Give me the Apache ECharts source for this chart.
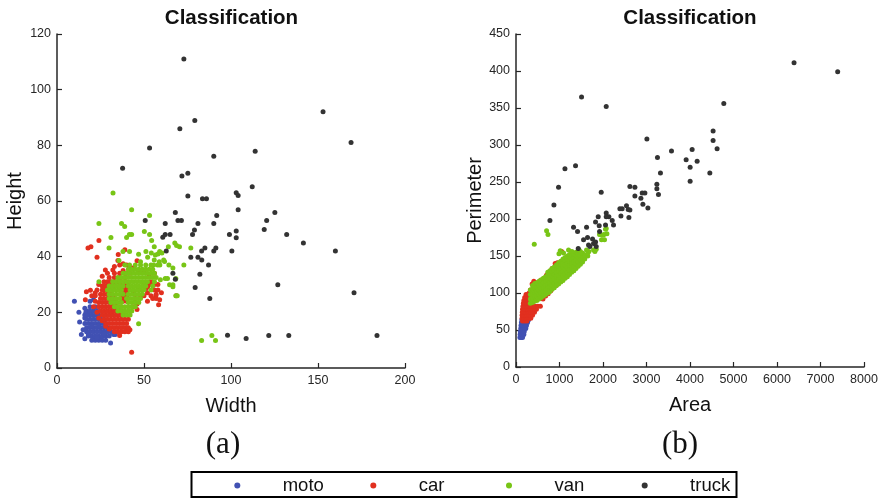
<!DOCTYPE html>
<html>
<head>
<meta charset="utf-8">
<title>Classification</title>
<script src="https://cdn.jsdelivr.net/npm/echarts@6/dist/echarts.min.js"></script>
<style>
  html, body { margin: 0; padding: 0; background: #fff; }
  #main { width: 886px; height: 498px; }
</style>
</head>
<body>
<div id="main"></div>
<script>
// class names and colours
var classes = ['moto', 'car', 'van', 'truck'];
var colors = ['#4151b3', '#e1301f', '#78c516', '#333333'];

// axis ticks [min, max, step]
var widthTicks = [0, 200, 50];
var heightTicks = [0, 120, 20];
var areaTicks = [0, 8000, 1000];
var perimTicks = [0, 450, 50];

// (a) Width / Height
var motoWH = [
  [10,24],[12.6,20],[16,21.5],[16.6,20],[16,18],[15,13.7],[16,10.5],[30.8,9],[21.5,10.2],[25.5,10.2],
  [14,12],[13,16.5],[19,24],[21,24.5],[32.5,12],[33.5,12],
  [20,10],[22,10],[24,10],[26,10],[28,10],
  [18,11.5],[20,11.5],[22,11.5],[24,11.5],[26,11.5],[28,11.5],[30,11.5],
  [17,13],[19,13],[21,13],[23,13],[25,13],[27,13],[29,13],[31,13],
  [17,14.5],[19,14.5],[21,14.5],[23,14.5],[25,14.5],[27,14.5],[29,14.5],
  [16,16],[18,16],[20,16],[22,16],[24,16],[26,16],[28,16],
  [17,17.5],[19,17.5],[21,17.5],[23,17.5],[25,17.5],[27,17.5],
  [16,19],[18,19],[20,19],[22,19],[24,19],
  [17,20.5],[19,20.5],[21,20.5],[23,20.5],
  [19,22],[22,22],[18,12.2],[23,11],[27,12.2],[20,15.2],[24,15.2],[28,15.2]
];
var carWH = [
  [42.9,5.7],[24.1,45.8],[17.8,43.1],[19.5,43.6],[23,39.8],[35.2,40.8],[35,38.6],[27.8,35.2],[32.1,35.2],
  [16.9,27.4],[19.2,27.9],[16.3,24.5],[36,11.7],[40.8,13.7],[41.9,13.7],[58.4,22.7],[56.8,26],[68.5,26],
  [39,42.5],[29,34],[22,27],[20,26],[38,37.5],[33,36.5],[46,38.5],[26,33],
  [22,24],[22,26],[23,28],[24,30],[21,22],[23,20],[24,18],[26,17],[28,15],[30,14],
  [33,13],[35,13],[37,13],[39,13],[41,13],
  [31,14.5],[33,14.5],[35,14.5],[37,14.5],[39,14.5],[41,14.5],
  [28,16],[30,16],[32,16],[34,16],[36,16],[38,16],[40,16],
  [27,17.5],[29,17.5],[31,17.5],[33,17.5],[35,17.5],[37,17.5],[39,17.5],[41,17.5],
  [26,19],[28,19],[30,19],[32,19],[34,19],[36,19],[38,19],
  [25,20.5],[27,20.5],[29,20.5],[31,20.5],[33,20.5],[35,20.5],[37,20.5],
  [24,22],[26,22],[28,22],[30,22],[32,22],[34,22],[36,22],
  [24,23.5],[26,23.5],[28,23.5],[30,23.5],[32,23.5],[34,23.5],
  [25,25],[27,25],[29,25],[31,25],[33,25],
  [25,26.5],[27,26.5],[29,26.5],[31,26.5],
  [26,28],[28,28],[30,28],
  [26,29.5],[28,29.5],[30,29.5],[32,29.5],
  [27,31],[29,31],[31,31],[33,31],[35,31],[37,31],
  [30,32.5],[33,32.5],[36,32.5],[39,32.5],
  [33,34],[36,34],[40,34],[42,34],
  [38,24],[38,26],[39,27.5],[40,29],[39,30],[37,25],[40,25.5],
  [38.5,27],[40,27.5],[39,28.5],[40.5,30],[39.5,31],[39,25],[40,24],[41,29],[38,29.5],[37,28],
  [50,26],[52,27],[54,26],[56,28],[52,24],[55,25],[58,30],[53,30],[51,28.5],[57,26.5],
  [44,27],[45,25],[46,23],[44,22],[46,21],[47,28],[48,26],[50,30],[52,29],[54,31],[56,30],[58,28],
  [60,27],[57,25],[59,24.5],[53,33],[56,34],[50,34.5],[44,36],[47,35],[38,35],[36,37],[40,37],[42,36]
];
var vanWH = [
  [32.2,62.9],[42.9,56.9],[53.2,54.8],[24.1,51.9],[37.1,51.9],[38.9,50.8],[31,46.9],[40,46.9],[41.6,48],
  [42.9,48],[50.2,49],[53.2,48],[54.4,45.8],[55.9,43.6],[67.7,44.9],[68.7,44],[70.4,43.6],[64,43.6],
  [76.9,43.1],[29.9,43.1],[37.9,41.9],[41.7,41.9],[46.9,40.9],[51.1,41.9],[59,41.9],[60.3,41.3],
  [35.6,38.6],[48,38.2],[54.2,41.3],[56.5,40.6],[61.8,38.3],[59.1,37],[39,37],[41.7,37],[55.5,37],
  [57.8,37],[72.9,37],[24.1,31],[64.7,29.9],[62.2,32.2],[63.5,32.2],[59.4,31.7],[66.6,29.9],[68.3,32.2],
  [68.3,26],[69.1,26],[46.9,15.9],[58,41],[61.3,38.8],[55.9,38.8],[58.8,38.2],[52.1,39.8],[64.3,37],
  [66.6,35.9],[66.6,29.2],[83.1,9.9],[89,11.7],[91.1,9.9],
  [38,19],[40,19],[42,19],
  [35,20.5],[37,20.5],[39,20.5],[41,20.5],[43,20.5],
  [33,22],[35,22],[37,22],[39,22],[41,22],[43,22],[45,22],
  [31,23.5],[33,23.5],[35,23.5],[37,23.5],[41,23.5],[43,23.5],[45,23.5],[47,23.5],
  [30,25],[32,25],[34,25],[36,25],[40,25],[42,25],[44,25],[46,25],[48,25],
  [30,26.5],[32,26.5],[34,26.5],[36,26.5],[38,26.5],[41,26.5],[43,26.5],[45,26.5],[47,26.5],[49,26.5],
  [29,28],[31,28],[33,28],[35,28],[37,28],[42,28],[44,28],[46,28],[48,28],[50,28],[54,28],
  [30,29.5],[32,29.5],[34,29.5],[36,29.5],[38,29.5],[41,29.5],[43,29.5],[45,29.5],[47,29.5],[49,29.5],[51,29.5],[55,29.5],
  [32,31],[34,31],[36,31],[38,31],[40,31],[42,31],[44,31],[46,31],[48,31],[50,31],[52,31],[56,31],
  [35,32.5],[37,32.5],[39,32.5],[41,32.5],[43,32.5],[45,32.5],[47,32.5],[49,32.5],[51,32.5],[53,32.5],[55,32.5],[57,32.5],
  [38,34],[40,34],[42,34],[44,34],[46,34],[48,34],[50,34],[52,34],[54,34],[56,34],
  [41,35.5],[43,35.5],[45,35.5],[47,35.5],[49,35.5],[51,35.5],[53,35.5],[55,35.5],
  [45,37],[48,37],[51,37],[54,37]
];
var truckWH = [
  [72.9,111],[79.2,88.9],[70.6,86],[53.2,79],[37.7,71.8],[90.1,76.1],[113.9,77.9],[152.9,92.1],[169,81],
  [71.8,69],[75.2,70],[75.2,61.8],[83.6,60.8],[85.9,60.8],[112.2,65.1],[103,63],[104.1,62],[104.1,56.9],
  [125.2,55.9],[120.5,53],[68,55.9],[69.5,53],[71.5,53],[50.7,53],[62.2,51.9],[81,51.9],[90.1,51.9],
  [91.8,54.8],[79,49.6],[77.9,48],[62.2,48],[65,48],[60.8,47],[103,49.2],[103,46.8],[99.1,48],[119.1,49.8],
  [132,48],[141.6,44.9],[85,43.1],[91.3,43.1],[83.1,42],[90.1,42],[62.8,42],[100.5,42],[76.9,39.8],
  [81,39.8],[83.2,38.8],[87.1,37],[66.6,34],[68,31.9],[82.1,33.7],[79.4,28.9],[87.8,25],[98,11.8],
  [108.7,10.6],[160,42],[126.9,29.9],[170.7,27],[121.7,11.7],[133.2,11.7],[183.9,11.7]
];

// (b) Area / Perimeter
var motoAP = [
  [90,40],[120,40],[150,40],
  [95,44],[125,44],[155,44],[180,44],
  [100,48],[130,48],[160,48],[190,48],
  [110,52],[140,52],[170,52],[200,52],[225,52],
  [115,56],[145,56],[175,56],[210,56],[240,56],
  [125,60],[160,60],[195,60],[230,60],[265,60],
  [135,64],[170,64],[210,64],[250,64],[290,64],
  [150,67],[200,67],[250,67],[300,67],[330,67]
];
var carAP = [
  [150,62],[200,62],[250,62],
  [140,66],[180,66],[220,66],[260,66],[300,66],[340,66],
  [140,70],[180,70],[220,70],[260,70],[300,70],[340,70],[380,70],
  [145,74],[185,74],[225,74],[265,74],[305,74],[345,74],[385,74],[425,74],
  [150,78],[190,78],[230,78],[270,78],[310,78],[350,78],[390,78],[430,78],[470,78],
  [160,82],[200,82],[240,82],[280,82],[320,82],[360,82],[400,82],[440,82],[500,82],[560,82],
  [170,86],[210,86],[250,86],[290,86],[330,86],
  [180,90],[220,90],[260,90],[300,90],
  [200,94],[240,94],[280,94],[230,98],[270,98],[310,98],
  [620,92],[680,96],[740,99],[800,103],[860,107],[920,110],[980,114],[1040,117],[1100,121],[1160,124],[1220,128],
  [300,100],[330,104],[370,112],[410,116],[450,114],[520,113],[560,117],[610,116],[660,119],[700,124],
  [760,128],[830,133],[900,140],[950,141],[1050,156],[1100,140]
];
var vanAP = [
  [330,86],[330,92],[330,98],[330,104],
  [380,87],[380,93],[380,99],[380,105],[380,110],
  [430,89],[430,95],[430,101],[430,107],[430,113],
  [480,90],[480,96],[480,102],[480,108],[480,114],
  [530,92],[530,98],[530,104],[530,110],[530,116],
  [580,94],[580,100],[580,106],[580,112],[580,118],
  [630,96],[630,102],[630,108],[630,114],[630,120],
  [680,98],[680,104],[680,110],[680,116],[680,122],
  [730,100],[730,106],[730,112],[730,118],[730,124],[730,128],
  [780,102],[780,108],[780,114],[780,120],[780,126],[780,130],
  [830,105],[830,111],[830,117],[830,123],[830,129],[830,133],
  [880,107],[880,113],[880,119],[880,125],[880,131],[880,135],
  [930,110],[930,116],[930,122],[930,128],[930,134],[930,138],
  [980,112],[980,118],[980,124],[980,130],[980,136],[980,141],
  [1030,115],[1030,121],[1030,127],[1030,133],[1030,139],[1030,143],
  [1080,117],[1080,123],[1080,129],[1080,135],[1080,141],[1080,146],
  [1130,120],[1130,126],[1130,132],[1130,138],[1130,144],[1130,148],
  [1180,122],[1180,128],[1180,134],[1180,140],[1180,146],[1180,150],
  [1230,125],[1230,131],[1230,137],[1230,143],[1230,149],[1230,152],
  [1280,128],[1280,134],[1280,140],[1280,146],[1280,151],
  [1330,130],[1330,136],[1330,142],[1330,148],[1330,153],
  [1380,133],[1380,139],[1380,145],[1380,151],[1380,155],
  [1430,136],[1430,142],[1430,148],[1430,153],
  [1480,139],[1480,145],[1480,151],[1480,156],
  [1530,142],[1530,148],[1530,154],[1580,146],[1580,151],[1650,150],[1650,154],
  [420,166],[703,184],[735,179],[1966,172],[2035,172],[2090,180],[2074,187],[2021,179],[1936,179],
  [1017,157],[1093,154],[988,153],[1208,158],[1286,156],[1676,156],[1783,158],[1844,159],[1920,179],
  [1998,178],[2058,186],[1621,158],[1814,156],[1450,158]
];
var truckAP = [
  [6392,411],[7395,399],[1507,365],[2074,352],[4777,356],[4531,319],[4531,306],[4623,295],[4049,294],
  [3911,280],[4003,270],[4164,278],[4003,251],[4456,262],[3574,292],[3009,308],[3252,283],[3321,262],
  [3238,247],[3238,241],[3275,233],[2618,244],[2733,243],[2901,235],[2963,235],[2871,228],[2917,220],
  [3032,215],[2733,231],[2540,218],[2579,213],[2618,212],[2441,214],[2388,214],[2412,204],[2595,202],
  [1959,236],[1369,272],[1125,268],[978,243],[872,219],[780,198],[2074,208],[2135,203],[2074,203],
  [2212,198],[2242,192],[1890,203],[1829,196],[1913,191],[2058,192],[1323,189],[1415,183],[1622,189],
  [1553,172],[1645,175],[1760,173],[1668,165],[1699,163],[1829,169],[1431,160],[1921,183],[1783,167],[1844,163]
];

var myChart = echarts.init(document.getElementById('main'));

var ink = '#262626';
function axis(grid, ticks, name, gap) {
  return {
    type: 'value', gridIndex: grid,
    min: ticks[0], max: ticks[1], interval: ticks[2],
    name: name, nameLocation: 'middle', nameGap: gap,
    nameTextStyle: { fontSize: 20, color: '#111', fontFamily: 'Liberation Sans' },
    axisLine: { show: true, lineStyle: { color: ink, width: 1.5 } },
    axisTick: { show: true, inside: true, length: 5, lineStyle: { color: ink, width: 1.2 } },
    axisLabel: {
      color: ink, fontSize: 12.5, fontFamily: 'Liberation Sans', margin: 6,
      formatter: function (v) { return String(v); }
    },
    splitLine: { show: false }
  };
}

function scatter(name, data, g) {
  var i = classes.indexOf(name);
  return {
    type: 'scatter', name: name, data: data,
    xAxisIndex: g, yAxisIndex: g,
    symbolSize: 5,
    itemStyle: { color: colors[i], opacity: 1 },
    emphasis: { disabled: true }
  };
}

// legend drawn as a boxed row: marker + label per class
var legendX = [237.3, 373.3, 509, 644.7];
var legendY = 485.5;
var legendItems = [{
  type: 'rect',
  shape: { x: 191.5, y: 472, width: 545, height: 25 },
  style: { fill: 'none', stroke: '#000', lineWidth: 2 }
}];
classes.forEach(function (c, i) {
  legendItems.push({
    type: 'circle',
    shape: { cx: legendX[i], cy: legendY, r: 3 },
    style: { fill: colors[i] }
  });
  legendItems.push({
    type: 'text', x: legendX[i] + 45.4, y: legendY,
    style: {
      text: c, fill: '#111', font: '18.5px "Liberation Sans"',
      textAlign: 'left', textVerticalAlign: 'middle'
    }
  });
});

var titleFont = { fontSize: 20.5, fontWeight: 'bold', color: '#111', fontFamily: 'Liberation Sans' };
var capFont = { fontSize: 31, fontWeight: 'normal', color: '#111', fontFamily: 'Liberation Serif' };

var option = {
  animation: false,
  title: [
    { text: 'Classification', left: 226.5, top: 3, textAlign: 'center', textStyle: titleFont },
    { text: 'Classification', left: 685, top: 3, textAlign: 'center', textStyle: titleFont },
    { text: '(a)', left: 218, top: 424, textAlign: 'center', textStyle: capFont },
    { text: '(b)', left: 675, top: 424, textAlign: 'center', textStyle: capFont }
  ],
  grid: [
    { left: 57, top: 34, width: 348, height: 334 },
    { left: 516, top: 34, width: 348, height: 333 }
  ],
  xAxis: [
    axis(0, widthTicks, 'Width', 28),
    axis(1, areaTicks, 'Area', 28)
  ],
  yAxis: [
    axis(0, heightTicks, 'Height', 32),
    axis(1, perimTicks, 'Perimeter', 29)
  ],
  graphic: legendItems,
  series: [
    scatter('moto', motoWH, 0),
    scatter('car', carWH, 0),
    scatter('van', vanWH, 0),
    scatter('truck', truckWH, 0),
    scatter('moto', motoAP, 1),
    scatter('car', carAP, 1),
    scatter('van', vanAP, 1),
    scatter('truck', truckAP, 1)
  ]
};

myChart.setOption(option);
</script>
</body>
</html>
